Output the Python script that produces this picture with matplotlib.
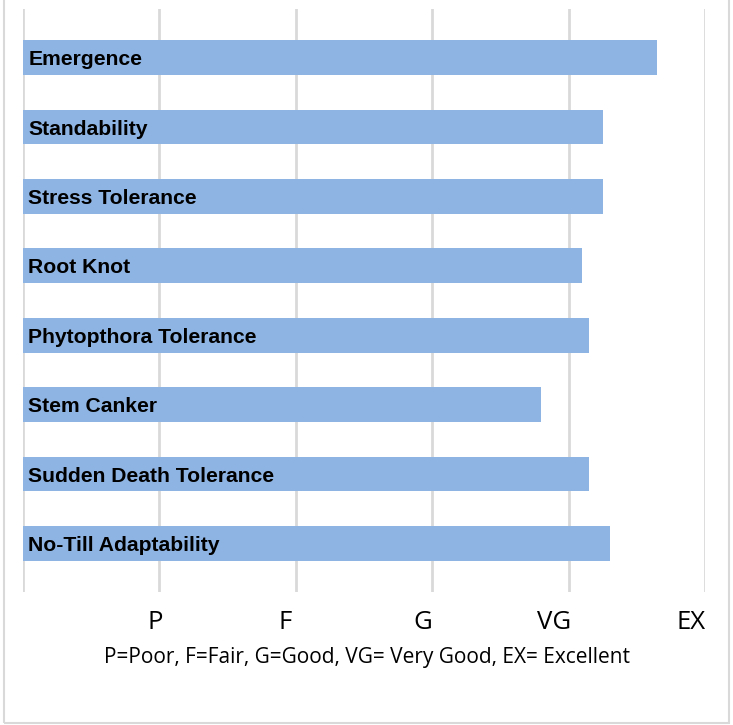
import matplotlib.pyplot as plt
from matplotlib.patches import Rectangle

# Data
traits = [
    "Emergence",
    "Standability",
    "Stress Tolerance",
    "Root Knot",
    "Phytopthora Tolerance",
    "Stem Canker",
    "Sudden Death Tolerance",
    "No-Till Adaptability",
]
scores = [4.65, 4.25, 4.25, 4.10, 4.15, 3.80, 4.15, 4.30]
rating_labels = ["P", "F", "G", "VG", "EX"]
rating_label_pos = [0.97, 1.92, 2.93, 3.89, 4.90]
footnote = "P=Poor, F=Fair, G=Good, VG= Very Good, EX= Excellent"

BAR_COLOR = "#8EB4E3"
GRID_COLOR = "#D9D9D9"

fig = plt.figure(figsize=(7.33, 7.25), dpi=100)
ax = fig.add_axes([23 / 733, 1 - 592 / 725, (705 - 23) / 733, (592 - 9) / 725])

y = list(range(len(traits)))
ax.barh(y, scores, height=0.5, color=BAR_COLOR, zorder=2)

# bar labels inside the bars
for yi, name in zip(y, traits):
    ax.text(0.04, yi + 0.03, name, ha="left", va="center", fontsize=15.2,
            fontweight="bold", family="Liberation Sans", color="black", zorder=3)

ax.set_xlim(0, 5)
ax.set_ylim(len(traits) - 0.3, -0.7)

# gridlines at each rating step
ax.set_xticks(range(6))
ax.set_xticklabels([""] * 6)
ax.grid(axis="x", color=GRID_COLOR, linewidth=2, zorder=0)
ax.tick_params(axis="x", which="major", length=0)
ax.set_xticks(rating_label_pos, minor=True)
ax.set_xticklabels(rating_labels, minor=True, fontsize=18.5, family="Open Sans")
ax.tick_params(axis="x", which="minor", length=0, pad=13)
ax.set_yticks([])
for side in ax.spines.values():
    side.set_visible(False)

fig.text(367 / 733, 1 - 658 / 725, footnote, ha="center", va="center",
         fontsize=15, family="Open Sans")

# light border round the chart
fig.patches.append(Rectangle((4 / 733, 2 / 725), 725 / 733, 1.0, transform=fig.transFigure,
                             fill=False, edgecolor=GRID_COLOR, linewidth=1.5))

fig.savefig("out.png", dpi=100)
